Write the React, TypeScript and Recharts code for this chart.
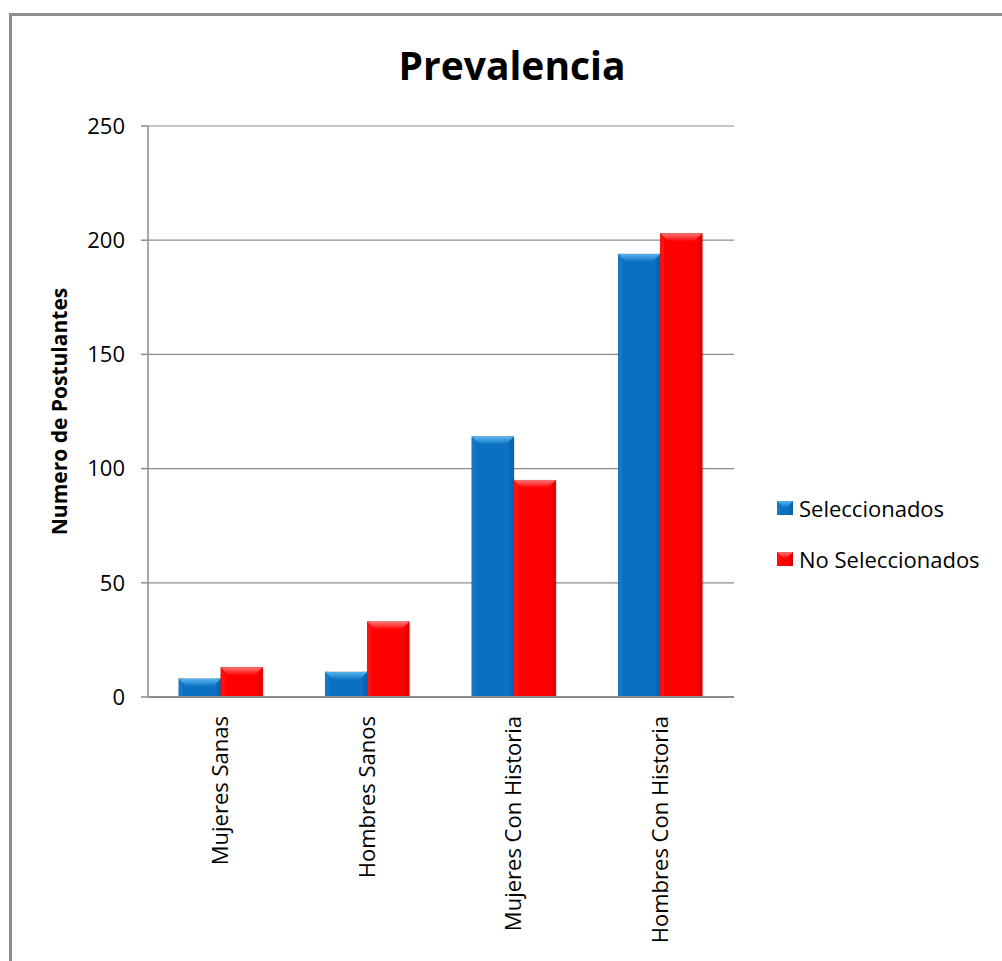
import React from "react";
import {
  BarChart,
  Bar,
  XAxis,
  YAxis,
  CartesianGrid,
  Customized,
} from "recharts";

// Categories and series values
const categories = [
  "Mujeres Sanas",
  "Hombres Sanos",
  "Mujeres Con Historia",
  "Hombres Con Historia",
];
const seleccionados = [8, 11, 114, 194];
const noSeleccionados = [13, 33, 95, 203];
const yTicks = [0, 50, 100, 150, 200, 250];

const seriesNames = ["Seleccionados", "No Seleccionados"];
const seriesColors = ["#0a70c2", "#ff0000"];

const data = categories.map((name, i) => ({
  name,
  sel: seleccionados[i],
  nosel: noSeleccionados[i],
}));

const FONT = "'Open Sans', 'DejaVu Sans', sans-serif";
const GRID = "#8c8c8c";

// Palette for bevelled bars: [top highlight, base, left, right]
const bevel: Record<string, string[]> = {
  "#0a70c2": ["#5ab8f0", "#0a70c2", "#137ac8", "#0866b2"],
  "#ff0000": ["#ff7878", "#ff0000", "#ff1010", "#e80000"],
};

const BevelBar = (props: any) => {
  const { x, y, width, height, fill } = props;
  if (!height || height <= 0) return null;
  const c = bevel[fill] || [fill, fill, fill, fill];
  const b = Math.min(8, height / 2, width / 2);
  const id = `g${fill.replace("#", "")}`;
  return (
    <g>
      <defs>
        <linearGradient id={id} x1="0" y1="0" x2="0" y2="1">
          <stop offset="0%" stopColor={c[0]} />
          <stop offset="100%" stopColor={c[1]} />
        </linearGradient>
      </defs>
      <rect x={x + 1.5} y={y + 1} width={width} height={height} fill="rgba(0,0,0,0.10)" />
      <rect x={x} y={y} width={width} height={height} fill={c[1]} />
      <rect x={x} y={y} width={b / 2} height={height} fill={c[2]} />
      <rect x={x + width - b / 2} y={y} width={b / 2} height={height} fill={c[3]} />
      <polygon
        points={`${x},${y} ${x + width},${y} ${x + width - b},${y + b} ${x + b},${y + b}`}
        fill={`url(#${id})`}
      />
      <rect x={x} y={y} width={width} height={height} fill="none" stroke="rgba(0,0,0,0.12)" strokeWidth={0.8} />
    </g>
  );
};

const CategoryTick = (props: any) => {
  const { x, y, payload } = props;
  return (
    <text
      x={0}
      y={0}
      transform={`translate(${x + 7}, ${y + 11}) rotate(-90)`}
      textAnchor="end"
      fontFamily={FONT}
      fontSize={22}
      fill="#000"
    >
      {payload.value}
    </text>
  );
};

const Title = () => (
  <text
    x={512}
    y={80}
    textAnchor="middle"
    fontFamily={FONT}
    fontWeight="bold"
    fontSize={39}
    fill="#000"
  >
    Prevalencia
  </text>
);

const LegendBox = () => (
  <div
    style={{
      position: "absolute",
      left: 777,
      top: 495,
      fontFamily: FONT,
      fontSize: 22,
      color: "#000",
      lineHeight: "26px",
    }}
  >
    {seriesNames.map((n, i) => (
      <div key={n} style={{ display: "flex", alignItems: "center", height: 26, marginBottom: 25 }}>
        <svg width={16} height={14} style={{ marginRight: 6 }}>
          <BevelBar x={0} y={0} width={16} height={14} fill={seriesColors[i]} />
        </svg>
        <span style={{ whiteSpace: "nowrap" }}>{n}</span>
      </div>
    ))}
  </div>
);

export default function App() {
  return (
    <div style={{ position: "absolute", left: 0, top: 0, width: 1002, height: 961, background: "#fff", overflow: "hidden" }}>
      <div
        style={{
          position: "absolute",
          left: 9,
          top: 13,
          width: 1010,
          height: 980,
          border: "3px solid #8e8e8e",
          boxSizing: "border-box",
        }}
      />
      <div style={{ position: "absolute", left: 0, top: 0 }}>
        <BarChart
          width={1002}
          height={961}
          data={data}
          margin={{ top: 126, right: 268, left: 0, bottom: 0 }}
          barCategoryGap="21%"
          barGap={0}
        >
          <CartesianGrid horizontal vertical={false} stroke={GRID} strokeWidth={1.2} />
          <XAxis
            dataKey="name"
            height={264}
            axisLine={{ stroke: GRID, strokeWidth: 2 }}
            tickLine={false}
            interval={0}
            tick={<CategoryTick />}
          />
          <YAxis
            width={148}
            domain={[0, 250]}
            ticks={yTicks}
            interval={0}
            axisLine={{ stroke: GRID, strokeWidth: 1.5 }}
            tickLine={{ stroke: GRID, strokeWidth: 1.5 }}
            tickSize={7}
            tickMargin={16}
            tick={{ fontFamily: FONT, fontSize: 22, fill: "#000" }}
            label={{
              value: "Numero de Postulantes",
              angle: -90,
              position: "insideLeft",
              offset: 60,
              style: { fontFamily: FONT, fontWeight: "bold", fontSize: 21, fill: "#000", textAnchor: "middle" },
            }}
          />
          <Bar dataKey="sel" name={seriesNames[0]} fill={seriesColors[0]} shape={<BevelBar />} isAnimationActive={false} />
          <Bar dataKey="nosel" name={seriesNames[1]} fill={seriesColors[1]} shape={<BevelBar />} isAnimationActive={false} />
          <Customized component={<Title />} />
        </BarChart>
      </div>
      <LegendBox />
    </div>
  );
}
